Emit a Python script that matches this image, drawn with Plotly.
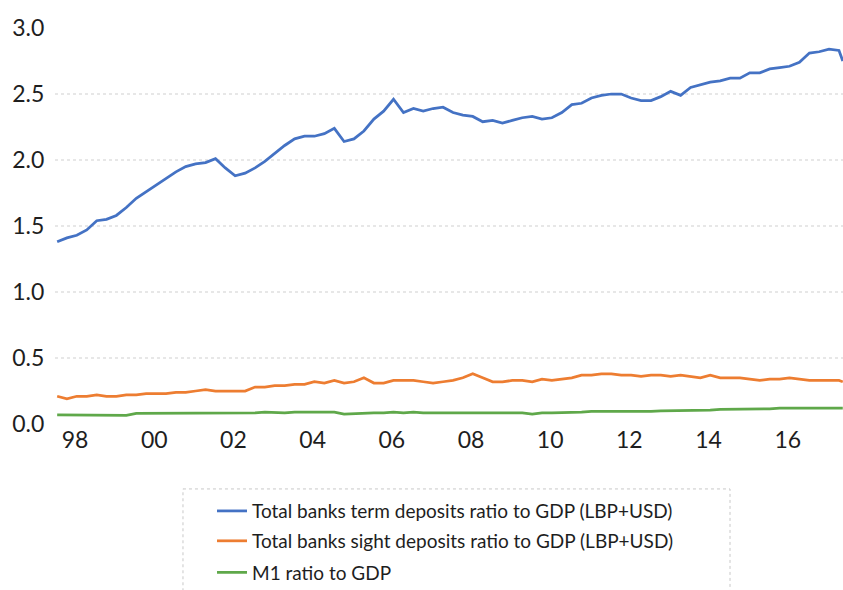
import plotly.graph_objects as go
import pandas as pd

# quarterly observations, Jan 1998 .. Oct 2017, plus the last reading (Nov 2017)
dates = list(pd.date_range("1998-01-01", periods=80, freq="QS")) + [pd.Timestamp("2017-11-05")]

term_deposits = [
    1.38, 1.41, 1.43, 1.47, 1.54, 1.55, 1.58, 1.64, 1.71, 1.76,
    1.81, 1.86, 1.91, 1.95, 1.97, 1.98, 2.01, 1.94, 1.88, 1.90,
    1.94, 1.99, 2.05, 2.11, 2.16, 2.18, 2.18, 2.20, 2.24, 2.14,
    2.16, 2.22, 2.31, 2.37, 2.46, 2.36, 2.39, 2.37, 2.39, 2.40,
    2.36, 2.34, 2.33, 2.29, 2.30, 2.28, 2.30, 2.32, 2.33, 2.31,
    2.32, 2.36, 2.42, 2.43, 2.47, 2.49, 2.50, 2.50, 2.47, 2.45,
    2.45, 2.48, 2.52, 2.49, 2.55, 2.57, 2.59, 2.60, 2.62, 2.62,
    2.66, 2.66, 2.69, 2.70, 2.71, 2.74, 2.81, 2.82, 2.84, 2.83,
    2.75,
]
sight_deposits = [
    0.21, 0.19, 0.21, 0.21, 0.22, 0.21, 0.21, 0.22, 0.22, 0.23,
    0.23, 0.23, 0.24, 0.24, 0.25, 0.26, 0.25, 0.25, 0.25, 0.25,
    0.28, 0.28, 0.29, 0.29, 0.30, 0.30, 0.32, 0.31, 0.33, 0.31,
    0.32, 0.35, 0.31, 0.31, 0.33, 0.33, 0.33, 0.32, 0.31, 0.32,
    0.33, 0.35, 0.38, 0.35, 0.32, 0.32, 0.33, 0.33, 0.32, 0.34,
    0.33, 0.34, 0.35, 0.37, 0.37, 0.38, 0.38, 0.37, 0.37, 0.36,
    0.37, 0.37, 0.36, 0.37, 0.36, 0.35, 0.37, 0.35, 0.35, 0.35,
    0.34, 0.33, 0.34, 0.34, 0.35, 0.34, 0.33, 0.33, 0.33, 0.33,
    0.32,
]
m1 = [
    0.07, 0.07, 0.07, 0.07, 0.07, 0.07, 0.07, 0.065, 0.08, 0.08,
    0.08, 0.08, 0.08, 0.08, 0.08, 0.085, 0.08, 0.08, 0.08, 0.08,
    0.085, 0.09, 0.085, 0.085, 0.09, 0.09, 0.09, 0.09, 0.09, 0.075,
    0.08, 0.085, 0.085, 0.085, 0.09, 0.085, 0.09, 0.085, 0.085, 0.085,
    0.085, 0.085, 0.085, 0.085, 0.085, 0.085, 0.085, 0.085, 0.075, 0.085,
    0.085, 0.085, 0.085, 0.09, 0.095, 0.095, 0.095, 0.09, 0.09, 0.09,
    0.095, 0.10, 0.10, 0.105, 0.10, 0.10, 0.105, 0.11, 0.11, 0.11,
    0.11, 0.11, 0.115, 0.12, 0.12, 0.12, 0.12, 0.12, 0.12, 0.12,
    0.12,
]

series_names = [
    "Total banks term deposits ratio to GDP (LBP+USD)",
    "Total banks sight deposits ratio to GDP (LBP+USD)",
    "M1 ratio to GDP",
]
series_colors = ["#4472C4", "#ED7D31", "#5FA84A"]

tick_years = [1998, 2000, 2002, 2004, 2006, 2008, 2010, 2012, 2014, 2016]
tick_labels = ["98", "00", "02", "04", "06", "08", "10", "12", "14", "16"]
grid_values = [0.5, 1.0, 1.5, 2.0, 2.5]

fig = go.Figure()

# one legend per series so the row spacing can match the original
legend_ids = ["legend", "legend2", "legend3"]
legend_tops = [0.166, 0.1153, 0.0619]

for name, values, color, lg in zip(
    series_names, [term_deposits, sight_deposits, m1], series_colors, legend_ids
):
    fig.add_trace(
        go.Scatter(
            x=dates,
            y=values,
            mode="lines",
            name=name,
            legend=lg,
            line=dict(color=color, width=2.75),
        )
    )

# dotted gridlines (none at 0.0 and 3.0 in the original)
for g in grid_values:
    fig.add_hline(y=g, line=dict(color="#CFCFCF", width=1, dash="dot"), layer="below")

# dotted legend frame
fig.add_shape(
    type="rect", xref="paper", yref="paper",
    x0=0.1624, x1=0.8566, y0=-0.164, y1=-0.48,
    line=dict(color="#C8C8C8", width=1, dash="dot"),
)

legend_style = dict(
    x=0.2515, xanchor="left", yanchor="top",
    xref="container", yref="container",
    font=dict(size=19, color="#1E1E1E"),
    bgcolor="rgba(0,0,0,0)",
    borderwidth=0,
)

fig.update_layout(
    width=843,
    height=590,
    margin=dict(l=55, r=0, t=28, b=166, autoexpand=False),
    plot_bgcolor="white",
    paper_bgcolor="white",
    font=dict(family="Lato", color="#1E1E1E"),
    showlegend=True,
    legend=dict(y=legend_tops[0], **legend_style),
    legend2=dict(y=legend_tops[1], **legend_style),
    legend3=dict(y=legend_tops[2], **legend_style),
    xaxis=dict(
        range=["1997-12-12", "2017-11-07"],
        tickvals=[pd.Timestamp(f"{y}-06-15") for y in tick_years],
        ticktext=tick_labels,
        showgrid=False,
        zeroline=False,
        showline=False,
        automargin=False,
        ticks="",
        tickfont=dict(size=23, color="#1E1E1E"),
    ),
    yaxis=dict(
        range=[0, 3.0],
        tickvals=[0, 0.5, 1.0, 1.5, 2.0, 2.5, 3.0],
        tickformat=".1f",
        showgrid=False,
        zeroline=False,
        showline=False,
        automargin=False,
        ticks="outside",
        ticklen=5,
        tickcolor="rgba(0,0,0,0)",
        tickfont=dict(size=23, color="#1E1E1E"),
    ),
)

# drop the browser's default page margin so the figure sits at the window's corner
fig.write_html(
    "out.html",
    config={"displayModeBar": False},
    post_script="document.body.style.margin='0px'; document.body.style.overflow='hidden';",
)
